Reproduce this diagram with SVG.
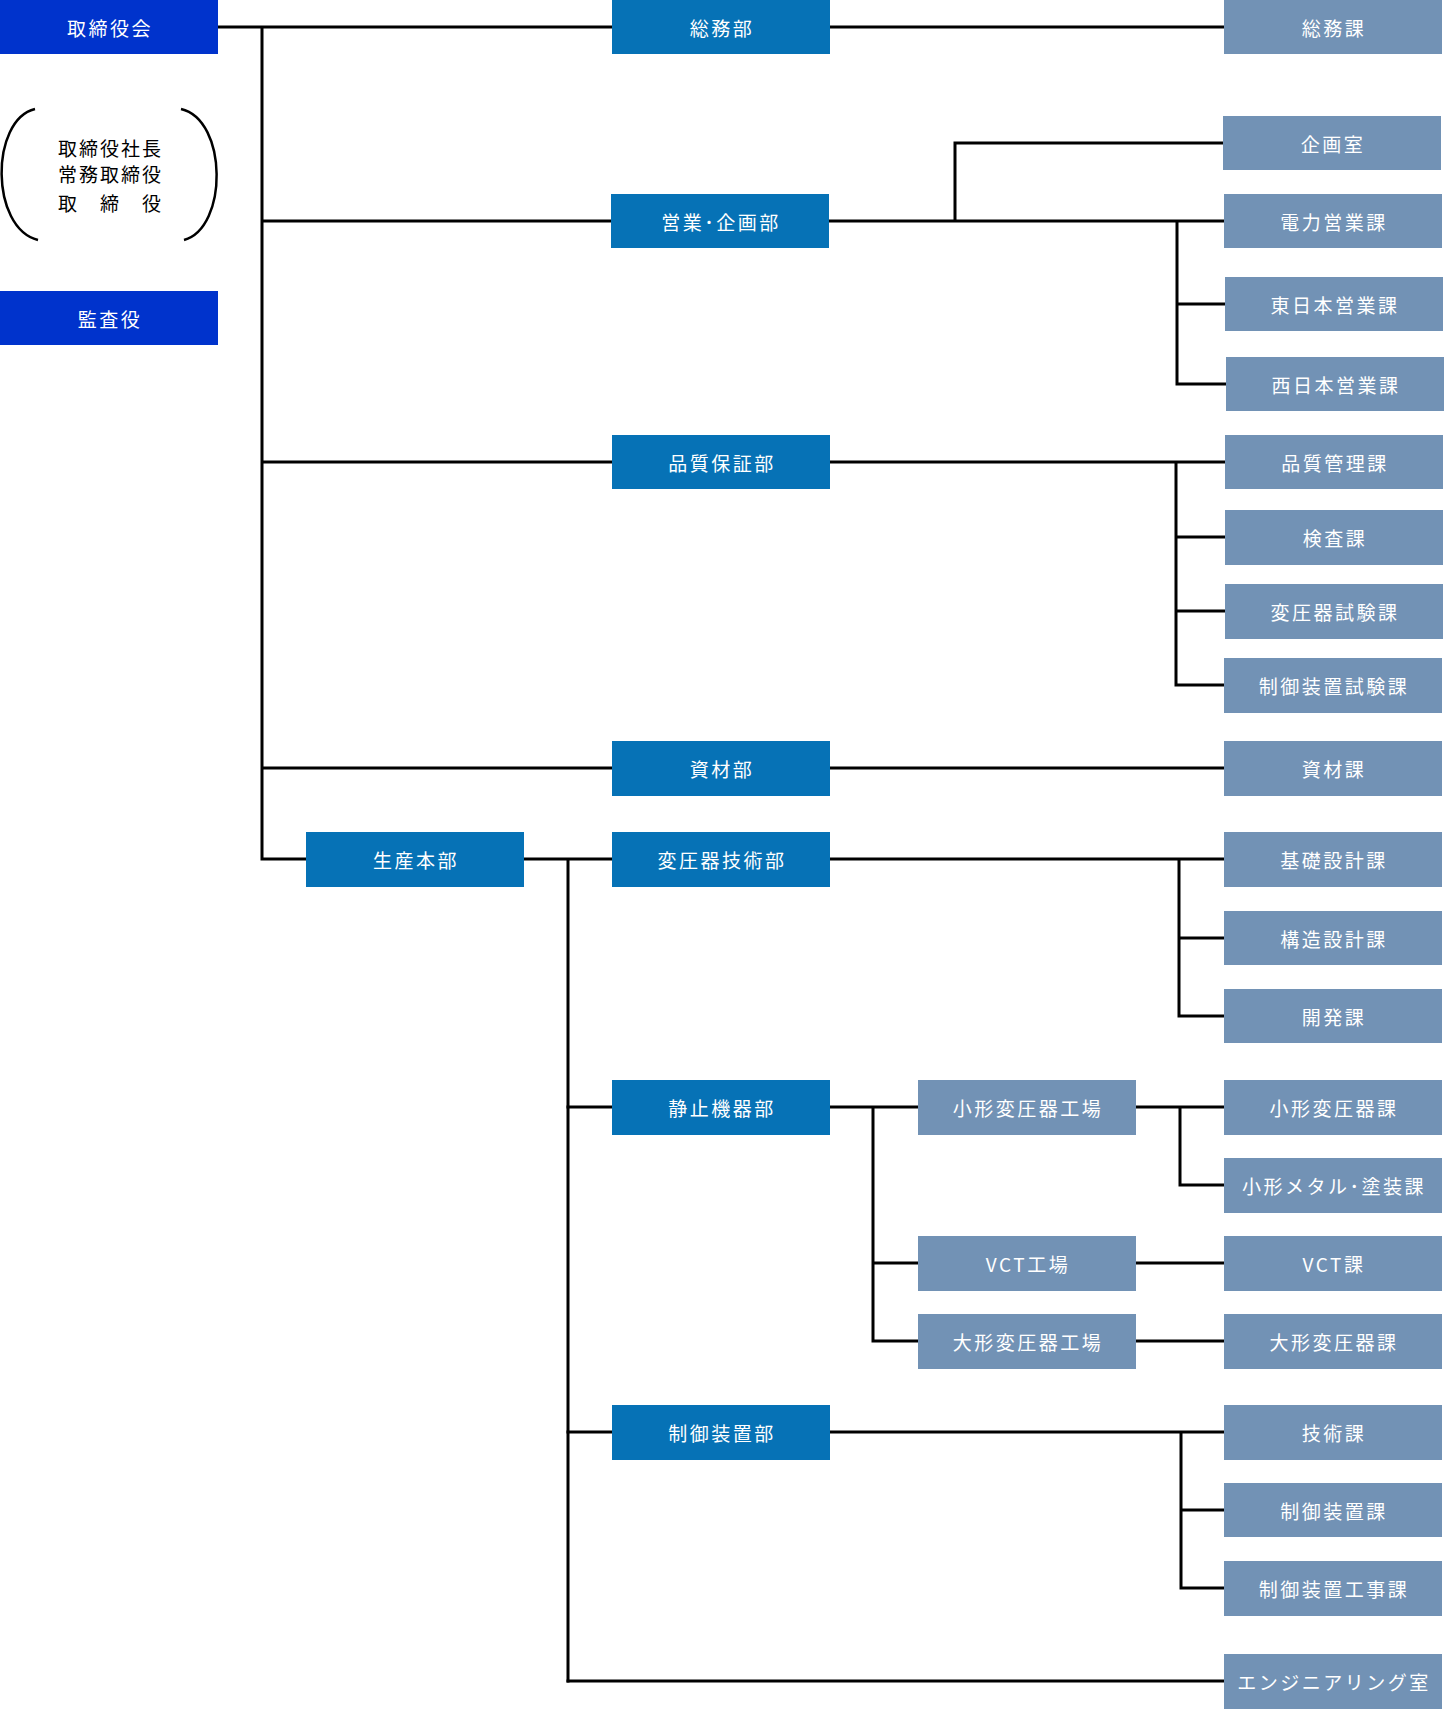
<svg xmlns="http://www.w3.org/2000/svg" width="1444" height="1709" viewBox="0 0 1444 1709">
<style>
.exec{fill:#0033CC}
.dept{fill:#0672B6}
.sec{fill:#7292B5}
.lbl{font-family:"Noto Sans CJK JP","Noto Sans",sans-serif;font-size:19px;letter-spacing:2.5px;fill:#ffffff;text-anchor:middle;dominant-baseline:central}
.blk{font-family:"Noto Sans CJK JP","Noto Sans",sans-serif;font-size:19px;letter-spacing:2px;fill:#000000;dominant-baseline:central}
.ln{stroke:#000;stroke-width:3;fill:none;stroke-linecap:square}
.par{stroke:#000;stroke-width:2.5;fill:none}
</style>
<rect width="1444" height="1709" fill="#ffffff"/>
<g id="connectors" class="ln">
<path d="M218 27H612M262 27V859M262 221H611M262 462H612M262 768H612M262 859H306"/>
<path d="M830 27H1224"/>
<path d="M829 221H1224M955 221V143H1223M1177 221V384M1177 304H1225M1177 384H1226"/>
<path d="M830 462H1225M1176 462V685M1176 537H1225M1176 611H1225M1176 685H1224"/>
<path d="M830 768H1224"/>
<path d="M524 859H612M568 859V1681"/>
<path d="M830 859H1224M1179 859V1016M1179 938H1224M1179 1016H1224"/>
<path d="M568 1107H612M830 1107H918M873 1107V1341M873 1263H918M873 1341H918"/>
<path d="M1136 1107H1224M1180 1107V1185H1224"/>
<path d="M1136 1263H1224M1136 1341H1224"/>
<path d="M568 1432H612M830 1432H1224M1181 1432V1588M1181 1510H1224M1181 1588H1224"/>
<path d="M568 1681H1224"/>
</g>
<g id="n-board"><rect class="exec" x="0" y="0" width="218" height="54"/><text class="lbl" x="110" y="27">取締役会</text></g>
<g id="n-members">
<path class="par" d="M35 109C-10 120 -10 228 38 240"/>
<path class="par" d="M181 109C228 120 228 228 184 240"/>
<text class="blk" x="58" y="147">取締役社長</text>
<text class="blk" x="58" y="173">常務取締役</text>
<text class="blk" x="58 100 142" y="202">取締役</text>
</g>
<g id="n-auditor"><rect class="exec" x="0" y="291" width="218" height="54"/><text class="lbl" x="110" y="318">監査役</text></g>
<g id="n-soumubu"><rect class="dept" x="612" y="0" width="218" height="54"/><text class="lbl" x="722" y="27">総務部</text></g>
<g id="n-soumuka"><rect class="sec" x="1224" y="0" width="218" height="54"/><text class="lbl" x="1334" y="27">総務課</text></g>
<g id="n-kikakushitsu"><rect class="sec" x="1223" y="116" width="218" height="54"/><text class="lbl" x="1333" y="143">企画室</text></g>
<g id="n-eigyobu"><rect class="dept" x="611" y="194" width="218" height="54"/><text class="lbl" x="721" y="221">営業･企画部</text></g>
<g id="n-denryoku"><rect class="sec" x="1224" y="194" width="218" height="54"/><text class="lbl" x="1334" y="221">電力営業課</text></g>
<g id="n-higashi"><rect class="sec" x="1225" y="277" width="218" height="54"/><text class="lbl" x="1335" y="304">東日本営業課</text></g>
<g id="n-nishi"><rect class="sec" x="1226" y="357" width="218" height="54"/><text class="lbl" x="1336" y="384">西日本営業課</text></g>
<g id="n-hinshitsubu"><rect class="dept" x="612" y="435" width="218" height="54"/><text class="lbl" x="722" y="462">品質保証部</text></g>
<g id="n-hinshitsuka"><rect class="sec" x="1225" y="435" width="218" height="54"/><text class="lbl" x="1335" y="462">品質管理課</text></g>
<g id="n-kensa"><rect class="sec" x="1225" y="510" width="218" height="55"/><text class="lbl" x="1335" y="537">検査課</text></g>
<g id="n-hen-shiken"><rect class="sec" x="1225" y="584" width="218" height="55"/><text class="lbl" x="1335" y="611">変圧器試験課</text></g>
<g id="n-seigyo-shiken"><rect class="sec" x="1224" y="658" width="218" height="55"/><text class="lbl" x="1334" y="685">制御装置試験課</text></g>
<g id="n-shizaibu"><rect class="dept" x="612" y="741" width="218" height="55"/><text class="lbl" x="722" y="768">資材部</text></g>
<g id="n-shizaika"><rect class="sec" x="1224" y="741" width="218" height="55"/><text class="lbl" x="1334" y="768">資材課</text></g>
<g id="n-seisan"><rect class="dept" x="306" y="832" width="218" height="55"/><text class="lbl" x="416" y="859">生産本部</text></g>
<g id="n-hengijutsu"><rect class="dept" x="612" y="832" width="218" height="55"/><text class="lbl" x="722" y="859">変圧器技術部</text></g>
<g id="n-kiso"><rect class="sec" x="1224" y="832" width="218" height="55"/><text class="lbl" x="1334" y="859">基礎設計課</text></g>
<g id="n-kozo"><rect class="sec" x="1224" y="911" width="218" height="54"/><text class="lbl" x="1334" y="938">構造設計課</text></g>
<g id="n-kaihatsu"><rect class="sec" x="1224" y="989" width="218" height="54"/><text class="lbl" x="1334" y="1016">開発課</text></g>
<g id="n-seishi"><rect class="dept" x="612" y="1080" width="218" height="55"/><text class="lbl" x="722" y="1107">静止機器部</text></g>
<g id="n-kogata-kojo"><rect class="sec" x="918" y="1080" width="218" height="55"/><text class="lbl" x="1028" y="1107">小形変圧器工場</text></g>
<g id="n-kogata-ka"><rect class="sec" x="1224" y="1080" width="218" height="55"/><text class="lbl" x="1334" y="1107">小形変圧器課</text></g>
<g id="n-metal"><rect class="sec" x="1224" y="1158" width="218" height="55"/><text class="lbl" x="1334" y="1185">小形メタル･塗装課</text></g>
<g id="n-vct-kojo"><rect class="sec" x="918" y="1236" width="218" height="55"/><text class="lbl" x="1028" y="1263">VCT工場</text></g>
<g id="n-vct-ka"><rect class="sec" x="1224" y="1236" width="218" height="55"/><text class="lbl" x="1334" y="1263">VCT課</text></g>
<g id="n-ogata-kojo"><rect class="sec" x="918" y="1314" width="218" height="55"/><text class="lbl" x="1028" y="1341">大形変圧器工場</text></g>
<g id="n-ogata-ka"><rect class="sec" x="1224" y="1314" width="218" height="55"/><text class="lbl" x="1334" y="1341">大形変圧器課</text></g>
<g id="n-seigyobu"><rect class="dept" x="612" y="1405" width="218" height="55"/><text class="lbl" x="722" y="1432">制御装置部</text></g>
<g id="n-gijutsu"><rect class="sec" x="1224" y="1405" width="218" height="55"/><text class="lbl" x="1334" y="1432">技術課</text></g>
<g id="n-seigyoka"><rect class="sec" x="1224" y="1483" width="218" height="54"/><text class="lbl" x="1334" y="1510">制御装置課</text></g>
<g id="n-koji"><rect class="sec" x="1224" y="1561" width="218" height="55"/><text class="lbl" x="1334" y="1588">制御装置工事課</text></g>
<g id="n-engineering"><rect class="sec" x="1224" y="1654" width="218" height="55"/><text class="lbl" x="1334" y="1681">エンジニアリング室</text></g>
</svg>
